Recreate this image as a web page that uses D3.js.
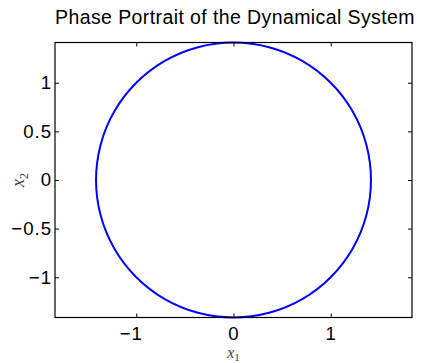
<!DOCTYPE html>
<html><head><meta charset="utf-8">
<script src="https://cdn.jsdelivr.net/npm/d3@7"></script>
<style>
html,body{margin:0;padding:0;background:#fff;}
svg{display:block;}
</style></head>
<body>
<script>
// Trajectory points (x1, x2): closed orbit of radius ~1.414
const x1Values = [1.414, 1.366, 1.225, 1.000, 0.707, 0.366, 0.000, -0.366, -0.707, -1.000, -1.225, -1.366,
                  -1.414, -1.366, -1.225, -1.000, -0.707, -0.366, 0.000, 0.366, 0.707, 1.000, 1.225, 1.366];
const x2Values = [0.000, 0.366, 0.707, 1.000, 1.225, 1.366, 1.414, 1.366, 1.225, 1.000, 0.707, 0.366,
                  0.000, -0.366, -0.707, -1.000, -1.225, -1.366, -1.414, -1.366, -1.225, -1.000, -0.707, -0.366];
const xTicks = [-1, 0, 1];
const yTicks = [-1, -0.5, 0, 0.5, 1];
const xDomain = [-1.836, 1.836];
const yDomain = [-1.414, 1.414];
const titleText = "Phase Portrait of the Dynamical System";

const W = 425, H = 363;
const m = {left: 55, right: 13, top: 42.5, bottom: 45.5};
const svg = d3.select("body").append("svg").attr("width", W).attr("height", H);
const x = d3.scaleLinear().domain(xDomain).range([m.left, W - m.right]);
const y = d3.scaleLinear().domain(yDomain).range([H - m.bottom, m.top]);
const fmt = d => (d < 0 ? "\u2212" : "") + Math.abs(d);
const font = "'Liberation Sans', Arial, Helvetica, sans-serif";
const tickFs = 18.6;

// curve
const pts = x1Values.map((v, i) => [v, x2Values[i]]);
svg.append("path")
  .datum(pts)
  .attr("d", d3.line().x(d => x(d[0])).y(d => y(d[1])).curve(d3.curveCatmullRomClosed.alpha(0.5)))
  .attr("fill", "none").attr("stroke", "#0000ff").attr("stroke-width", 2);

// axes
const tl = 4;
function styleAxis(g) {
  g.select(".domain").remove();
  g.selectAll("line").attr("stroke", "#000").attr("stroke-width", 1);
  g.selectAll("text").attr("font-family", font).attr("font-size", tickFs).attr("fill", "#000")
    .attr("letter-spacing", 1);
}
svg.append("g").attr("transform", `translate(0,${H - m.bottom})`)
  .call(d3.axisBottom(x).tickValues(xTicks).tickFormat(fmt).tickSizeInner(-tl).tickSizeOuter(0).tickPadding(9))
  .call(styleAxis)
  .call(g => g.selectAll("text").attr("dx", d => d < 0 ? -5.5 : 0));
svg.append("g").attr("transform", `translate(0,${m.top})`)
  .call(d3.axisTop(x).tickValues(xTicks).tickFormat("").tickSizeInner(-tl).tickSizeOuter(0))
  .call(styleAxis);
svg.append("g").attr("transform", `translate(${m.left},0)`)
  .call(d3.axisLeft(y).tickValues(yTicks).tickFormat(fmt).tickSizeInner(-tl).tickSizeOuter(0).tickPadding(3))
  .call(styleAxis);
svg.append("g").attr("transform", `translate(${W - m.right},0)`)
  .call(d3.axisRight(y).tickValues(yTicks).tickFormat("").tickSizeInner(-tl).tickSizeOuter(0))
  .call(styleAxis);

// box
svg.append("rect").attr("x", m.left).attr("y", m.top)
  .attr("width", W - m.left - m.right).attr("height", H - m.top - m.bottom)
  .attr("fill", "none").attr("stroke", "#000").attr("stroke-width", 1.2);

// title
svg.append("text").attr("x", 235).attr("y", 24)
  .attr("text-anchor", "middle").attr("font-family", font).attr("font-size", 19.5).attr("fill", "#000")
  .attr("letter-spacing", 0.4)
  .text(titleText);

// axis labels
const serif = "'Liberation Serif', 'Times New Roman', serif";
const xl = svg.append("text").attr("x", (m.left + W - m.right) / 2).attr("y", 357.5)
  .attr("text-anchor", "middle").attr("font-family", serif)
  .attr("font-size", 16).attr("fill", "#444");
xl.append("tspan").attr("font-style", "italic").text("x");
xl.append("tspan").attr("font-size", 11).attr("dy", 3).text("1");

const yl = svg.append("text").attr("transform", `translate(24,${(m.top + H - m.bottom) / 2}) rotate(-90)`)
  .attr("text-anchor", "middle").attr("font-family", serif)
  .attr("font-size", 18).attr("fill", "#444");
yl.append("tspan").attr("font-style", "italic").text("x");
yl.append("tspan").attr("font-size", 12).attr("dy", 4).text("2");
</script>
</body></html>
